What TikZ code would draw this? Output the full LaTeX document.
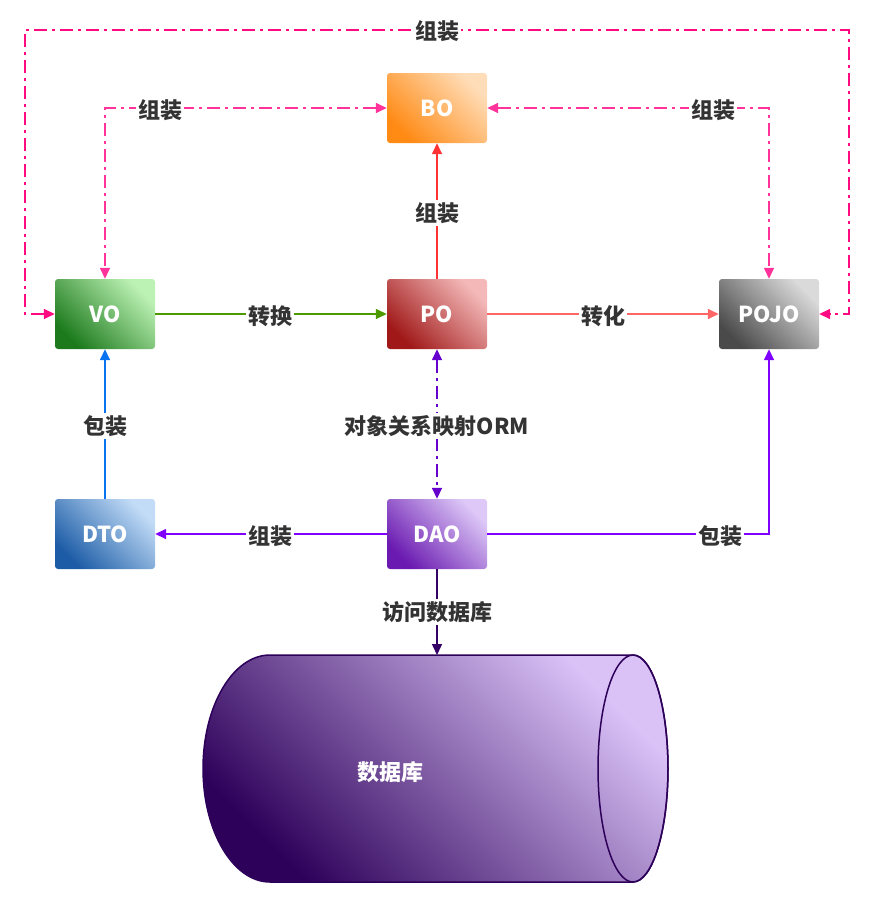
\documentclass[tikz,border=0pt]{standalone}
\usepackage{fontspec}
\newfontfamily\cjk{Noto Sans CJK SC}
\usetikzlibrary{arrows.meta}
\definecolor{labcol}{HTML}{333333}
\definecolor{pinkA}{HTML}{FF0A80}
\definecolor{pinkB}{HTML}{FF3399}
\definecolor{redA}{HTML}{FF3333}
\definecolor{greenA}{HTML}{4C9900}
\definecolor{salmonA}{HTML}{FF6666}
\definecolor{purpA}{HTML}{6600CC}
\definecolor{purpB}{HTML}{8000FF}
\definecolor{blueA}{HTML}{0A74F0}
\definecolor{dbA}{HTML}{330066}
\definecolor{boD}{HTML}{FF8A14}\definecolor{boL}{HTML}{FFDDB8}
\definecolor{voD}{HTML}{1C7A1C}\definecolor{voL}{HTML}{BDF2B5}
\definecolor{poD}{HTML}{A01818}\definecolor{poL}{HTML}{F4B8B8}
\definecolor{pjD}{HTML}{4A4A4A}\definecolor{pjL}{HTML}{DADADA}
\definecolor{dtD}{HTML}{1C5CA6}\definecolor{dtL}{HTML}{C2DCF7}
\definecolor{daD}{HTML}{6A1AB0}\definecolor{daL}{HTML}{DDC8F7}
\definecolor{cyD}{HTML}{2D0059}\definecolor{cyL}{HTML}{DAC2F7}
\tikzset{
  box/.style={rectangle, rounded corners=3pt, minimum width=100pt, minimum height=70pt,
    text=white, font=\cjk\bfseries\fontsize{22}{26}\selectfont, inner sep=0pt},
  grad/.style 2 args={top color=#2, bottom color=#1, shading angle=-45},
  lab/.style={fill=white, text=labcol, font=\cjk\bfseries\fontsize{22}{26}\selectfont, inner sep=2pt},
  arr/.style={-{Triangle[length=11pt,width=10pt]}, line width=1.5pt},
  arrb/.style={{Triangle[length=11pt,width=10pt]}-{Triangle[length=11pt,width=10pt]}, line width=1.5pt},
  dd/.style={dash pattern=on 13pt off 5pt on 3pt off 5pt},
}
\begin{document}
\begin{tikzpicture}[x=1pt,y=-1pt]
\useasboundingbox (0,0) rectangle (874,907);
% nodes
\node[box, grad={boD}{boL}] (BO) at (437,108) {BO};
\node[box, grad={voD}{voL}] (VO) at (105,314) {VO};
\node[box, grad={poD}{poL}] (PO) at (437,314) {PO};
\node[box, grad={pjD}{pjL}] (POJO) at (769,314) {POJO};
\node[box, grad={dtD}{dtL}] (DTO) at (105,534) {DTO};
\node[box, grad={daD}{daL}] (DAO) at (437,534) {DAO};
% cylinder
\coordinate (DB) at (437,655);
\path[grad={cyD}{cyL}] (270,655) arc[start angle=90, end angle=270, x radius=67pt, y radius=113.5pt]
  -- (633,882) arc[start angle=270, end angle=450, x radius=35pt, y radius=113.5pt] -- cycle;
\draw[cyD, line width=1.5pt] (270,655) arc[start angle=90, end angle=270, x radius=67pt, y radius=113.5pt]
  -- (633,882) arc[start angle=270, end angle=450, x radius=35pt, y radius=113.5pt] -- cycle;
\draw[cyD, line width=1.5pt] (633,768.5) ellipse [x radius=35pt, y radius=113.5pt];
\node[text=white, font=\cjk\bfseries\fontsize{22}{26}\selectfont] (DBL) at (390,772) {数据库};
% corner coordinates
\coordinate (oL) at (25,30);
\coordinate (oR) at (849,30);
% connectors
\draw[pinkA, arrb, dd] (VO.west) -| (oL) -- (oR) |- (POJO.east);
\draw[pinkB, arrb, dd] (BO.west) -| (VO.north);
\draw[pinkB, arrb, dd] (BO.east) -| (POJO.north);
\draw[redA, arr] (PO.north) -- (BO.south);
\draw[greenA, arr] (VO.east) -- (PO.west);
\draw[salmonA, arr] (PO.east) -- (POJO.west);
\draw[purpA, arrb, dd] (PO.south) -- (DAO.north);
\draw[blueA, arr] (DTO.north) -- (VO.south);
\draw[purpB, arr] (DAO.west) -- (DTO.east);
\draw[purpB, arr] (DAO.east) -| (POJO.south);
\draw[dbA, arr] (DAO.south) -- (DB);
% labels
\node[lab] (l1) at (437,31) {组装};
\node[lab] (l2) at (160,110) {组装};
\node[lab] (l3) at (713,110) {组装};
\node[lab] (l4) at (437,213) {组装};
\node[lab] (l5) at (270,316) {转换};
\node[lab] (l6) at (603,316) {转化};
\node[lab] (l7) at (437,426) {对象关系映射ORM};
\node[lab] (l8) at (105,426) {包装};
\node[lab] (l9) at (270,536) {组装};
\node[lab] (l10) at (720,536) {包装};
\node[lab] (l11) at (437,612) {访问数据库};
\end{tikzpicture}
\end{document}
